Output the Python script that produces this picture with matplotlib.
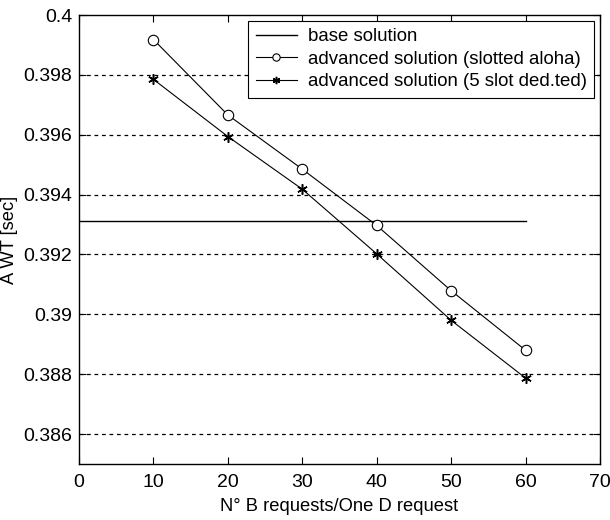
import numpy as np
import matplotlib
matplotlib.use("Agg")
import matplotlib.pyplot as plt
from matplotlib.ticker import FixedLocator, FuncFormatter

plt.rcParams['font.family'] = ['Liberation Sans', 'DejaVu Sans']

# data
n_req = [10, 20, 30, 40, 50, 60]
aloha = [0.39918, 0.39666, 0.39485, 0.39297, 0.39079, 0.38880]
dedicated = [0.39785, 0.39594, 0.39418, 0.39202, 0.38980, 0.38787]
base_x = [0, 60]
base_y = [0.39313, 0.39313]

yticks = [0.386, 0.388, 0.390, 0.392, 0.394, 0.396, 0.398, 0.400]
xticks = [0, 10, 20, 30, 40, 50, 60, 70]

fig = plt.figure(figsize=(6.1, 5.2), dpi=100)
ax = fig.add_axes([79/610, 1 - 464/520, (600-79)/610, (464-15)/520])

for y in yticks[:-1]:
    ax.axhline(y, color='black', lw=0.9, ls=(0, (3, 3)), zorder=1)

ax.plot(base_x, base_y, color='black', lw=1.0, label='base solution')
ax.plot(n_req, aloha, color='black', lw=0.8, marker='o', ms=7.5,
        mfc='white', mew=0.8, label='advanced solution (slotted aloha)')
ax.plot(n_req, dedicated, color='black', lw=0.8, marker=(6, 2, 0), ms=7.5,
        mew=1.1, label='advanced solution (5 slot ded.ted)')

ax.set_xlim(0, 70)
ax.set_ylim(0.385, 0.400)
ax.xaxis.set_major_locator(FixedLocator(xticks))
ax.yaxis.set_major_locator(FixedLocator(yticks))
ax.yaxis.set_major_formatter(FuncFormatter(lambda v, p: ('%.3f' % v).rstrip('0').rstrip('.')))
ax.tick_params(direction='in', top=True, right=True, length=5, width=0.8,
               labelsize=14)
ax.tick_params(axis='x', pad=7)
ax.tick_params(axis='y', pad=5)
for s in ax.spines.values():
    s.set_linewidth(1.0)

ax.set_xlabel('N° B requests/One D request', fontsize=13.2, labelpad=5)
ax.set_ylabel('A WT [sec]', fontsize=13.2, labelpad=4)

leg = ax.legend(loc='upper right', fontsize=13.4, frameon=True, fancybox=False,
                edgecolor='black', framealpha=1, borderaxespad=0.3,
                handlelength=2.2, handletextpad=0.6, labelspacing=0.3,
                borderpad=0.4, markerscale=0.7)
leg.get_frame().set_linewidth(0.8)

fig.savefig('out.png', dpi=100)
